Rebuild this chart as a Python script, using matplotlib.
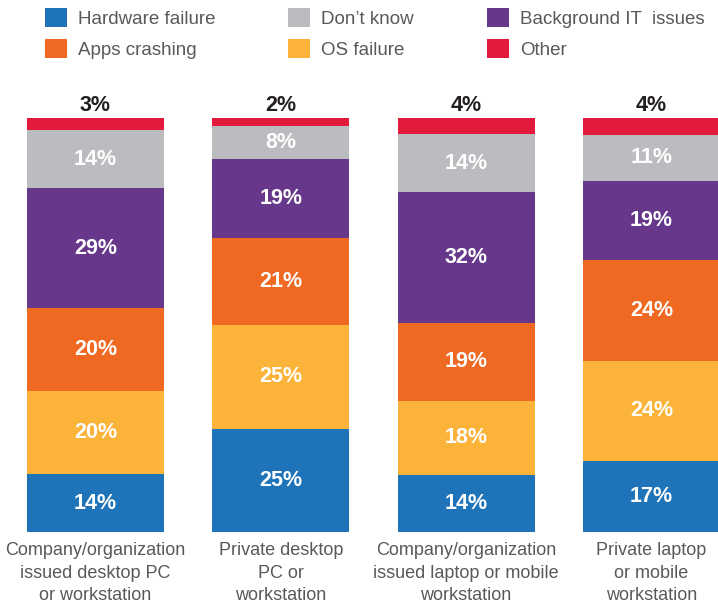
import matplotlib
matplotlib.use("Agg")
import matplotlib.pyplot as plt
import numpy as np

plt.rcParams['font.family'] = ['Liberation Sans', 'DejaVu Sans']

categories = [
    "Company/organization\nissued desktop PC\nor workstation",
    "Private desktop\nPC or\nworkstation",
    "Company/organization\nissued laptop or mobile\nworkstation",
    "Private laptop\nor mobile\nworkstation",
]
series_names = ["Hardware failure", "OS failure", "Apps crashing",
                "Background IT  issues", "Don\u2019t know", "Other"]
hardware_failure = [14, 25, 14, 17]
os_failure = [20, 25, 18, 24]
apps_crashing = [20, 21, 19, 24]
background_it = [29, 19, 32, 19]
dont_know = [14, 8, 14, 11]
other = [3, 2, 4, 4]

colors = ["#1f73b9", "#fbb33a", "#ef6923", "#66378a", "#bbbcbf", "#e21b3d"]

series = [hardware_failure, os_failure, apps_crashing, background_it, dont_know, other]
data = np.array(series, dtype=float)
totals = data.sum(axis=0)
norm = data / totals * 100.0

fig = plt.figure(figsize=(7.18, 6.08), dpi=100)
ax = fig.add_axes([0, 76 / 608, 1, 414 / 608])

pitch = 185.3
x = np.arange(len(categories))
width = 137 / pitch
bottom = np.zeros(len(categories))
bars = []
for i, (name, vals) in enumerate(zip(series_names, norm)):
    b = ax.bar(x, vals, width, bottom=bottom, color=colors[i], label=name, linewidth=0)
    bars.append(b)
    for j in range(len(categories)):
        raw = int(data[i, j])
        if i == len(series_names) - 1:
            ax.text(x[j], bottom[j] + vals[j] + 0.5, f"{raw}%", ha="center", va="bottom",
                    fontsize=15.5, fontweight="bold", color="#231f20")
        else:
            ax.text(x[j], bottom[j] + vals[j] / 2, f"{raw}%", ha="center", va="center",
                    fontsize=15.5, fontweight="bold", color="white")
    bottom += vals

ax.set_xlim(-95.5 / pitch, (718 - 95.5) / pitch)
ax.set_ylim(0, 100)
ax.set_xticks(x)
ax.set_xticklabels(categories, fontsize=13, color="#595959", linespacing=1.45)
ax.tick_params(axis="x", length=0, pad=7)
ax.set_yticks([])
for s in ax.spines.values():
    s.set_visible(False)
ax.patch.set_visible(False)

# column-major: col1 Hardware, Apps; col2 Don't know, OS; col3 Background, Other
handles = [bars[0], bars[2], bars[4], bars[1], bars[3], bars[5]]
labels = [series_names[k] for k in [0, 2, 4, 1, 3, 5]]
fig.legend(handles, labels, loc="upper left", bbox_to_anchor=(45 / 718, 1 - 8 / 608),
           ncol=3, frameon=False, fontsize=13.5, handlelength=1.15, handleheight=1.15,
           handletextpad=0.6, columnspacing=3.9, labelspacing=0.6, borderpad=0,
           borderaxespad=0, labelcolor="#595959")

fig.savefig("out.png", dpi=100)
